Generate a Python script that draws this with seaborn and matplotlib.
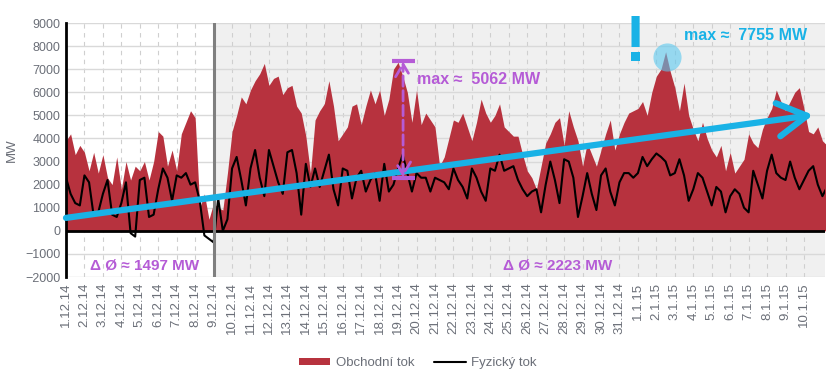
import numpy as np
import pandas as pd
import matplotlib.pyplot as plt
import seaborn as sns

# --- Data (6-hour samples from 1.12.2014) ---
obchodni_tok = [
    3900, 4200, 3300, 3700, 3400, 2600, 3400, 2500, 3300, 2300,
    2000, 3200, 1800, 3000, 2200, 2800, 2600, 3000, 2200, 3000,
    4300, 4100, 2800, 3500, 2600, 4200, 4700, 5200, 4900, 1000,
    1600, 500, 1200, 1000, 900, 2500, 4300, 5000, 5800, 5500,
    6100, 6500, 6800, 7250, 6300, 6600, 6700, 5900, 6200, 6300,
    5400, 5100, 4100, 2500, 4800, 5200, 5500, 6500, 5400, 3900,
    4200, 4500, 5400, 5500, 4600, 5400, 6100, 5500, 6100, 5000,
    5700, 7000, 7300, 6700, 6000, 4700, 6100, 4600, 5100, 4800,
    4500, 2800, 3200, 4000, 4800, 4700, 5100, 4500, 3900, 4700,
    5700, 5100, 4700, 5000, 5500, 4500, 4300, 4100, 4100, 3300,
    2600, 2300, 1800, 2800, 3800, 4200, 4700, 4900, 3700, 5200,
    4500, 3900, 2800, 3800, 3300, 2800, 3500, 4200, 4800, 3500,
    4200, 4700, 5100, 5200, 5300, 5600, 5000, 6000, 6700, 7000,
    7755, 6900, 6200, 5200, 6400, 5000, 4400, 3900, 4700, 4000,
    3500, 3200, 3700, 2600, 3400, 2500, 2800, 3100, 4200, 3800,
    3600, 4400, 4900, 5300, 6100, 5600, 5200, 5600, 6000, 6200,
    5300, 4300, 4200, 4500, 3900, 3700,
]
fyzicky_tok = [
    2300, 1600, 1200, 1100, 2400, 2100, 650, 800, 1600, 2200,
    700, 600, 1200, 2100, -100, -250, 2200, 2300, 600, 700,
    1800, 2700, 2300, 1300, 2400, 2300, 2500, 2000, 2100, 1300,
    -200, -350, -500, 1400, 0, 500, 2700, 3200, 2200, 1100,
    2700, 3500, 2300, 1500, 3500, 2800, 2100, 1600, 3400, 3500,
    2500, 700, 2900, 1900, 2700, 1900, 2600, 3300, 1800, 1100,
    2700, 2600, 1400, 2300, 2600, 1700, 2200, 2500, 1300, 2900,
    1700, 2000, 2700, 3300, 2500, 1700, 2500, 2300, 2300, 1700,
    2300, 2200, 2100, 1800, 2700, 2200, 1900, 1400, 2700, 2300,
    1700, 1300, 2700, 2600, 3300, 2600, 2700, 2800, 2200, 1800,
    1500, 1700, 1800, 800, 2000, 3000, 2200, 1200, 3100, 3000,
    2300, 600, 1500, 2500, 1600, 900, 2400, 2700, 1700, 1100,
    2100, 2500, 2500, 2300, 2500, 3200, 2800, 3100, 3350, 3200,
    3000, 2400, 2500, 3100, 2400, 1300, 1800, 2500, 2300, 1700,
    1100, 1900, 1700, 800, 1500, 1800, 1600, 1000, 800, 2600,
    2000, 1400, 2600, 3300, 2500, 2300, 2200, 3000, 2300, 1800,
    2200, 2600, 2800, 2000, 1500, 1900,
]
zacatek = "2014-12-01"
konec_popisku = "2015-01-10"
prumer_pred = 1497
prumer_po = 2223
max_pred = 5062
max_po = 7755

RED = "#b7323e"
PURPLE = "#b55bd6"
CYAN = "#19b2e6"
GREY_TXT = "#6b6f78"

sns.set_style("white")
plt.rcParams['font.family'] = ['Liberation Sans', 'DejaVu Sans']

cas = pd.date_range(zacatek, periods=len(obchodni_tok), freq="6h")
df = pd.DataFrame({"cas": cas, "obchodni": obchodni_tok, "fyzicky": fyzicky_tok})
df["den"] = (df["cas"] - cas[0]) / pd.Timedelta(days=1)
dny = pd.date_range(zacatek, konec_popisku, freq="D")
popisky = [f"{d.day}.{d.month}.{d:%y}" for d in dny]

fig = plt.figure(figsize=(8.35, 3.83), dpi=100)
ax = fig.add_axes([66 / 835, 1 - 277 / 383, (825 - 66) / 835, (277 - 23) / 383])
ax.set_axisbelow(True)

# background split at 9.12.
ax.axvspan(8, 45, color="#f0f0f0", lw=0, zorder=0)

ax.fill_between(df["den"], 0, df["obchodni"], color=RED, lw=0, label="Obchodní tok", zorder=2)
sns.lineplot(data=df, x="den", y="fyzicky", color="black", lw=1.5, ax=ax,
             label="Fyzický tok", legend=False, zorder=3)

ax.axhline(0, color="black", lw=2, zorder=4)
ax.axvline(8, color="#7f7f7f", lw=2.2, zorder=4)

ax.set_xlim(0, 41.14)
ax.set_ylim(-2000, 9000)
ax.set_yticks(np.arange(-2000, 9001, 1000))
ax.set_xticks(np.arange(len(dny)))
ax.set_xticklabels(popisky, rotation=90)
ax.tick_params(axis="both", length=0, labelcolor=GREY_TXT, pad=4)
ax.tick_params(axis="y", labelsize=9)
ax.tick_params(axis="x", labelsize=9.5)
ax.grid(axis="y", color="#d9d9d9", lw=1)
ax.grid(axis="x", color="#cfcfcf", lw=0.8, ls=(0, (4, 4)))
ax.set_xlabel("")
ax.set_ylabel("MW", color=GREY_TXT, fontsize=9.5)
ax.yaxis.set_label_coords(-48 / 759, 0.5)

for s in ["top", "right", "bottom"]:
    ax.spines[s].set_visible(False)
ax.spines["left"].set_color("black")
ax.spines["left"].set_linewidth(2)

# trend arrow
ax.annotate("", xy=(40.5, 5020), xytext=(0, 560),
            arrowprops=dict(arrowstyle="->,head_length=0.7,head_width=0.4", color=CYAN,
                            lw=4.5, mutation_scale=30, shrinkA=0, shrinkB=0),
            zorder=6)

# first max annotation
ax.annotate("", xy=(18.27, 7330), xytext=(18.27, 2320),
            arrowprops=dict(arrowstyle="<->,head_length=0.5,head_width=0.3", color=PURPLE,
                            lw=2, ls="--", mutation_scale=18, shrinkA=0, shrinkB=0),
            zorder=7)
ax.hlines([7360, 2290], 17.67, 18.92, color=PURPLE, lw=3, zorder=7)
ax.text(19.0, 6540, f"max \u2248  {max_pred} MW", color=PURPLE, fontsize=11.5,
        fontweight="bold", va="center", ha="left", zorder=7)

# second max annotation
ax.scatter([32.57], [7530], s=410, color="#5bc8ef", alpha=0.6, lw=0, zorder=6)
ax.text(30.9, 8100, "!", color=CYAN, fontsize=46, fontweight="bold",
        ha="center", va="center", zorder=7, clip_on=False)
ax.text(33.5, 8480, f"max \u2248  {max_po} MW", color=CYAN, fontsize=11.5,
        fontweight="bold", va="center", ha="left", zorder=7)

ax.text(1.3, -1520, f"\u0394 \u00d8 \u2248 {prumer_pred} MW", color=PURPLE, fontsize=11,
        fontweight="bold", va="center", ha="left", zorder=7)
ax.text(23.7, -1520, f"\u0394 \u00d8 \u2248 {prumer_po} MW", color=PURPLE, fontsize=11,
        fontweight="bold", va="center", ha="left", zorder=7)

handles, labels = ax.get_legend_handles_labels()
leg = fig.legend(handles, labels, loc="center", bbox_to_anchor=(0.5, 1 - 363 / 383),
                 ncol=2, frameon=False, fontsize=9.5, handlelength=2.4, handleheight=0.5,
                 columnspacing=1.5, handletextpad=0.4)
for t in leg.get_texts():
    t.set_color(GREY_TXT)

fig.savefig("out.png", dpi=100)
